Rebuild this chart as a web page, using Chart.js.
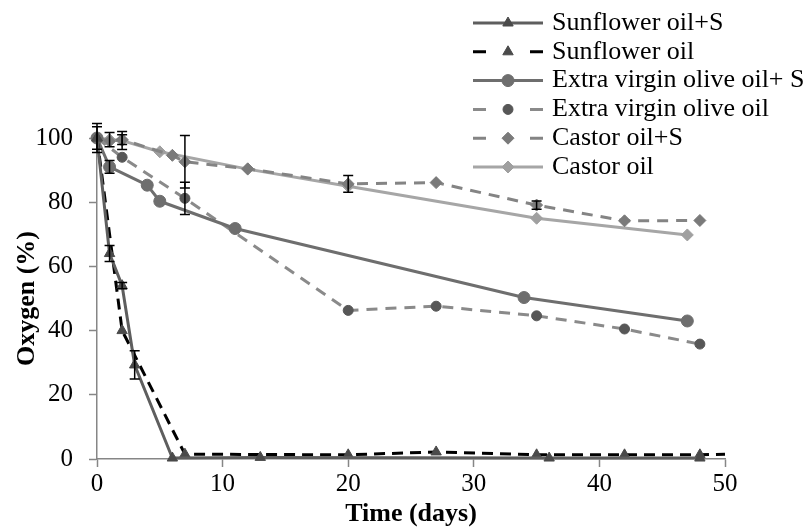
<!DOCTYPE html>
<html>
<head>
<meta charset="utf-8">
<title>Oxygen (%) vs time</title>
<script src="https://cdn.jsdelivr.net/npm/chart.js@4.4.1/dist/chart.umd.min.js"></script>
<style>
  html, body { margin: 0; padding: 0; background: #fff; }
  #chart { display: block; }
</style>
</head>
<body>
<canvas id="chart" width="810" height="530"></canvas>
<script>
// Sampling days, oxygen left in the headspace (%) and +/- error per sample
const sunflowerSDays = [0, 1, 2, 3, 6, 13, 36, 48];
const sunflowerSOxy  = [100, 64, 54, 29.3, 0.3, 0.5, 0.3, 0.3];
const sunflowerSErr  = [0, 2.5, 1, 4.4, 0, 0, 0, 0];

const sunflowerDays = [0, 2, 7, 20, 27, 35, 42, 48, 50];
const sunflowerOxy  = [100, 40, 1.5, 1.3, 2.2, 1.3, 1.3, 1.3, 1.5];
const sunflowerErr  = [4.5, 0, 0, 0, 0, 0, 0, 0, 0];

const oliveSDays = [0, 1, 4, 5, 11, 34, 47];
const oliveSOxy  = [100, 91, 85.3, 80.3, 71.8, 50.3, 43];
const oliveSErr  = [3.5, 2, 0, 0, 0, 0, 0];

const oliveDays = [0, 2, 7, 20, 27, 35, 42, 48];
const oliveOxy  = [100, 94, 81.2, 46.3, 47.6, 44.6, 40.5, 35.8];
const oliveErr  = [0, 0, 5, 0, 0, 0, 0, 0];

const castorSDays = [0, 1, 2, 6, 7, 12, 20, 27, 35, 42, 48];
const castorSOxy  = [100, 99, 99.5, 94.6, 92.6, 90.4, 85.7, 86.1, 79.1, 74.2, 74.3];
const castorSErr  = [0, 0, 1.5, 0, 8.2, 0, 2.6, 0, 1.3, 0, 0];

const castorDays = [0, 1, 2, 5, 12, 20, 35, 47];
const castorOxy  = [100, 99.5, 99.2, 95.7, 90.3, 85, 75, 69.8];
const castorErr  = [0, 2.2, 2.8, 0, 0, 0, 0, 0];

const seriesLabels = [
    'Sunflower oil+S',
    'Sunflower oil',
    'Extra virgin olive oil+ S',
    'Extra virgin olive oil',
    'Castor oil+S',
    'Castor oil'
];

const xTicks = { min: 0, max: 50, step: 10 };
const yTicks = { min: 0, max: 100, step: 20 };

const SERIF = '"Liberation Serif", "Times New Roman", serif';
const AXIS_GREY = '#868686';

function points(days, values) {
    return days.map((d, i) => ({ x: d, y: values[i] }));
}

function series(label, days, values, errors, style) {
    return Object.assign({
        label: label,
        data: points(days, values),
        errors: errors,
        borderWidth: 3,
        borderJoinStyle: 'round',
        tension: 0,
        clip: false,
        pointBorderWidth: 1
    }, style);
}

const datasets = [
    series(seriesLabels[0], sunflowerSDays, sunflowerSOxy, sunflowerSErr, {
        borderColor: '#5e5e5e', pointStyle: 'triangle', pointRadius: 6,
        pointBackgroundColor: '#4a4a4a', pointBorderColor: '#4a4a4a'
    }),
    series(seriesLabels[1], sunflowerDays, sunflowerOxy, sunflowerErr, {
        borderColor: '#000000', borderDash: [11, 7], pointStyle: 'triangle',
        // the tail point at day 50 only carries the line
        pointRadius: sunflowerDays.map(d => d > 48 ? 0 : 6),
        pointBackgroundColor: '#4a4a4a', pointBorderColor: '#4a4a4a'
    }),
    series(seriesLabels[2], oliveSDays, oliveSOxy, oliveSErr, {
        borderColor: '#6e6e6e', pointStyle: 'circle', pointRadius: 6,
        pointBackgroundColor: '#6e6e6e', pointBorderColor: '#6e6e6e'
    }),
    series(seriesLabels[3], oliveDays, oliveOxy, oliveErr, {
        borderColor: '#8a8a8a', borderDash: [11, 8], pointStyle: 'circle', pointRadius: 5,
        pointBackgroundColor: '#575757', pointBorderColor: '#575757'
    }),
    series(seriesLabels[4], castorSDays, castorSOxy, castorSErr, {
        borderColor: '#848484', borderDash: [11, 8], pointStyle: 'rectRot', pointRadius: 6,
        pointBackgroundColor: '#7a7a7a', pointBorderColor: '#7a7a7a'
    }),
    series(seriesLabels[5], castorDays, castorOxy, castorErr, {
        borderColor: '#a6a6a6', pointStyle: 'rectRot', pointRadius: 6,
        pointBackgroundColor: '#a0a0a0', pointBorderColor: '#a0a0a0'
    })
];

// Black error bars with short caps, drawn over the series
const errorBars = {
    id: 'errorBars',
    afterDatasetsDraw(chart) {
        const ctx = chart.ctx;
        const xs = chart.scales.x;
        const ys = chart.scales.y;
        ctx.save();
        ctx.strokeStyle = '#000';
        ctx.lineWidth = 1.5;
        chart.data.datasets.forEach(ds => {
            (ds.errors || []).forEach((e, j) => {
                if (!e) return;
                const p = ds.data[j];
                const px = xs.getPixelForValue(p.x);
                const top = ys.getPixelForValue(p.y + e);
                const bot = ys.getPixelForValue(p.y - e);
                ctx.beginPath();
                ctx.moveTo(px, top); ctx.lineTo(px, bot);
                ctx.moveTo(px - 5, top); ctx.lineTo(px + 5, top);
                ctx.moveTo(px - 5, bot); ctx.lineTo(px + 5, bot);
                ctx.stroke();
            });
        });
        ctx.restore();
    }
};

// Legend stacked in the top right corner: line sample, marker, label
const sideLegend = {
    id: 'sideLegend',
    afterDraw(chart) {
        const ctx = chart.ctx;
        const x0 = 473, x1 = 543, textX = 552, firstY = 23, step = 28.8;
        chart.data.datasets.forEach((ds, i) => {
            const yy = firstY + i * step;
            const mid = (x0 + x1) / 2;
            ctx.save();
            ctx.strokeStyle = ds.borderColor;
            ctx.lineWidth = ds.borderWidth;
            ctx.lineCap = 'butt';
            ctx.beginPath();
            if (ds.borderDash) {
                ctx.moveTo(x0, yy); ctx.lineTo(x0 + 13, yy);
                ctx.moveTo(x1 - 13, yy); ctx.lineTo(x1, yy);
            } else {
                ctx.moveTo(x0, yy); ctx.lineTo(x1, yy);
            }
            ctx.stroke();

            const r = Array.isArray(ds.pointRadius) ? ds.pointRadius[0] : ds.pointRadius;
            ctx.fillStyle = ds.pointBackgroundColor;
            ctx.strokeStyle = ds.pointBorderColor;
            ctx.lineWidth = 1;
            Chart.helpers.drawPoint(ctx, {
                pointStyle: ds.pointStyle, radius: r, rotation: 0, borderWidth: 1
            }, mid, yy);

            ctx.fillStyle = '#000';
            ctx.font = '26px ' + SERIF;
            ctx.textAlign = 'left';
            ctx.textBaseline = 'middle';
            ctx.fillText(ds.label, textX, yy);
            ctx.restore();
        });
    }
};

const chart = new Chart(document.getElementById('chart'), {
    type: 'line',
    data: { datasets: datasets },
    options: {
        responsive: false,
        animation: false,
        events: [],
        layout: { padding: { top: 138, right: 85, left: 0, bottom: 0 } },
        plugins: {
            legend: { display: false },
            tooltip: { enabled: false }
        },
        scales: {
            x: {
                type: 'linear',
                min: xTicks.min,
                max: xTicks.max,
                afterFit(scale) { scale.height = 71; },
                border: { color: AXIS_GREY, width: 1.5 },
                grid: {
                    drawOnChartArea: false, drawTicks: true,
                    tickLength: 8, tickColor: AXIS_GREY, tickWidth: 1.5
                },
                ticks: {
                    stepSize: xTicks.step, padding: 2, color: '#000',
                    maxRotation: 0, font: { family: SERIF, size: 25 }
                },
                title: {
                    display: true, text: 'Time (days)', color: '#000',
                    padding: { top: 6, bottom: 0 },
                    font: { family: SERIF, size: 26, weight: 'bold' }
                }
            },
            y: {
                min: yTicks.min,
                max: yTicks.max,
                afterFit(scale) { scale.width = 97; },
                border: { color: AXIS_GREY, width: 1.5 },
                grid: {
                    drawOnChartArea: false, drawTicks: true,
                    tickLength: 8, tickColor: AXIS_GREY, tickWidth: 1.5
                },
                ticks: {
                    stepSize: yTicks.step, padding: 16, color: '#000',
                    font: { family: SERIF, size: 25 }
                },
                title: {
                    display: true, text: 'Oxygen (%)', color: '#000',
                    padding: { top: 12, bottom: 0 },
                    font: { family: SERIF, size: 26, weight: 'bold' }
                }
            }
        }
    },
    plugins: [errorBars, sideLegend]
});
</script>
</body>
</html>
